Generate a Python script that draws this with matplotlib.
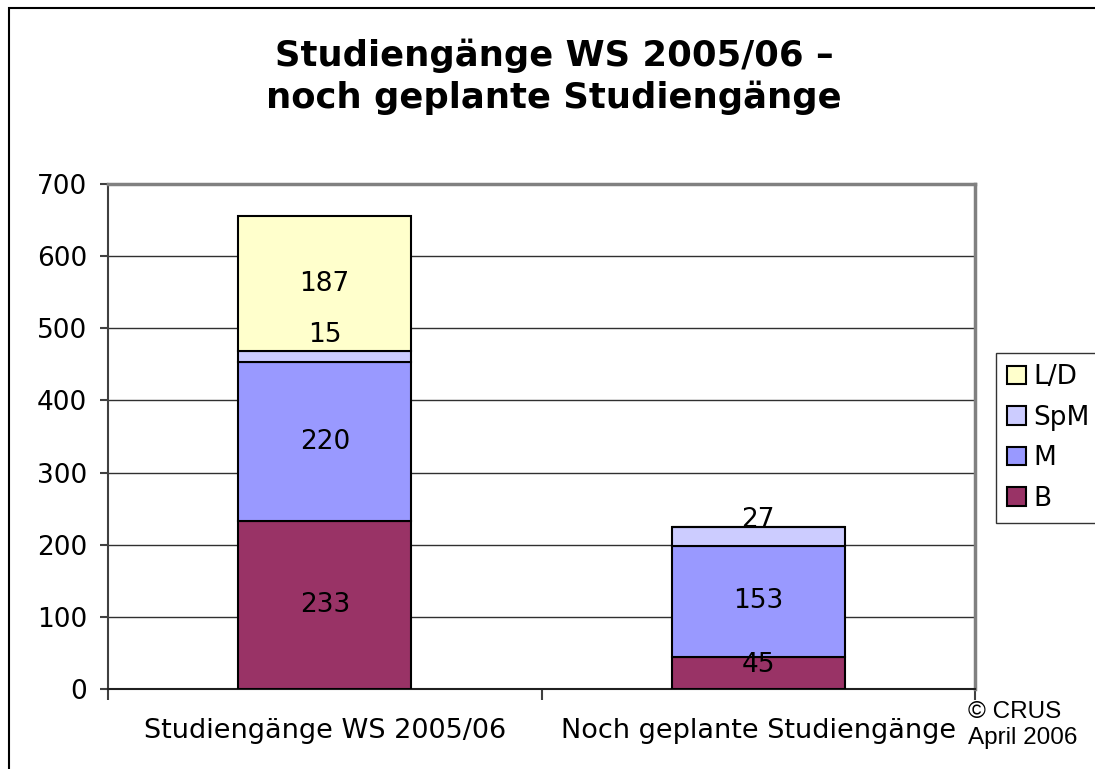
import matplotlib.pyplot as plt
import matplotlib.patches as mpatches
import numpy as np

categories = ["Studiengänge WS 2005/06", "Noch geplante Studiengänge"]
series = ["B", "M", "SpM", "L/D"]
b_vals = [233, 45]
m_vals = [220, 153]
spm_vals = [15, 27]
ld_vals = [187, 0]
colors = ["#993366", "#9999FF", "#CCCCFF", "#FFFFCC"]

fig = plt.figure(figsize=(10.95, 7.69), dpi=100)
ax = fig.add_axes([108 / 1095, 1 - 689 / 769, (975 - 108) / 1095, (689 - 184) / 769])

x = np.arange(len(categories))
bottom = np.zeros(len(categories))
px_per_unit = 505 / 700
handles = []
for name, vals, col in zip(series, [b_vals, m_vals, spm_vals, ld_vals], colors):
    vals = np.array(vals, dtype=float)
    bars = ax.bar(x, vals, 0.4, bottom=bottom, color=col, edgecolor="black",
                  linewidth=1.5, zorder=3, label=name)
    handles.append(bars)
    for xi, v, b in zip(x, vals, bottom):
        if v <= 0:
            continue
        hpx = v * px_per_unit
        nudge = max(0, 29 - 0.65 * hpx) if v < 50 else 0
        ax.annotate(f"{int(v)}", (xi, b + v / 2), xytext=(0, nudge * 0.72),
                    textcoords="offset points", ha="center", va="center",
                    fontsize=19, zorder=4)
    bottom += vals

ax.set_xlim(-0.5, 1.5)
ax.set_ylim(0, 700)
ax.set_yticks(np.arange(0, 701, 100))
ax.set_xticks(x)
ax.set_xticklabels(categories)
ax.set_xticks([-0.5, 0.5, 1.5], minor=True)
ax.tick_params(axis="x", which="major", length=0, pad=21, labelsize=19.5)
ax.tick_params(axis="x", which="minor", length=8, width=1.5, color="#404040")
ax.tick_params(axis="y", length=6, width=1.5, color="#404040", labelsize=19, pad=9)
ax.yaxis.grid(True, color="#303030", linewidth=1)
ax.set_axisbelow(True)
for s in ["top", "right"]:
    ax.spines[s].set_color("#808080")
    ax.spines[s].set_linewidth(2.5)
ax.spines["left"].set_color("#404040")
ax.spines["left"].set_linewidth(1.5)
ax.spines["bottom"].set_color("#202020")
ax.spines["bottom"].set_linewidth(1.5)

fig.text(0.506, 1 - 77 / 769, "Studiengänge WS 2005/06 –\nnoch geplante Studiengänge",
         ha="center", va="center", fontsize=25.5, fontweight="bold", linespacing=1.28)

leg = ax.legend(handles[::-1], series[::-1], loc="upper left",
                bbox_to_anchor=(996 / 1095, 1 - 353 / 769), bbox_transform=fig.transFigure,
                frameon=True, fancybox=False, edgecolor="black", fontsize=19,
                handlelength=0.7, handleheight=0.7, handletextpad=0.3,
                labelspacing=0.55, borderpad=0.42, borderaxespad=0)
leg.get_frame().set_linewidth(1)

fig.text(968 / 1095, 1 - 725 / 769, "© CRUS\nApril 2006", ha="left", va="center",
         fontsize=17.5, family="Liberation Sans", linespacing=1.2)

fig.patches.append(mpatches.Rectangle((9 / 1095, -0.1), 1.2, 1 - 8 / 769 + 0.1,
                                      transform=fig.transFigure, fill=False,
                                      edgecolor="black", linewidth=1.5))

fig.savefig("out.png", dpi=100)
